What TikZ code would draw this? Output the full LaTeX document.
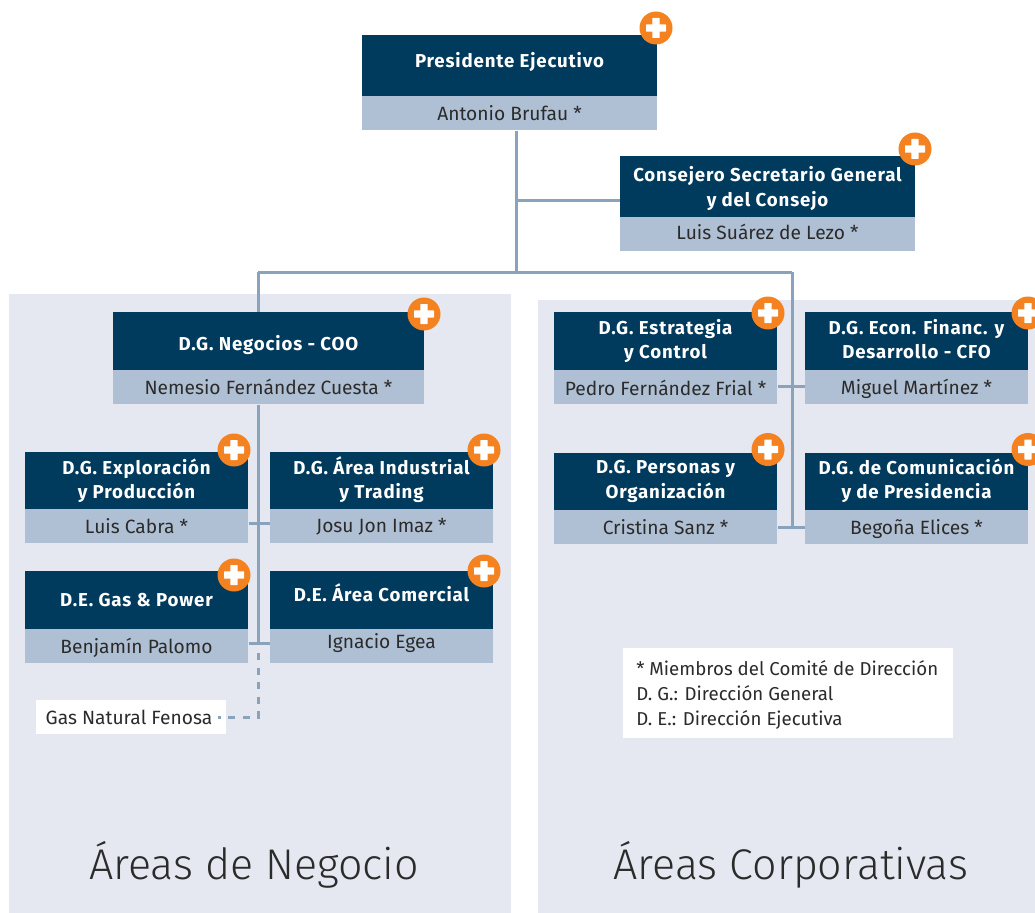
\documentclass[tikz,border=0pt]{standalone}
\usepackage{fontspec}
\setmainfont{Fira Sans}
\newfontfamily\lightf{Fira Sans Light}
\newfontfamily\titlef[LetterSpace=4.5]{Fira Sans}
\definecolor{headc}{HTML}{003A5D}
\definecolor{subc}{HTML}{B0C0D4}
\definecolor{panelc}{HTML}{E5E8F0}
\definecolor{plusc}{HTML}{F58220}
\definecolor{linec}{HTML}{8AA3BD}
\definecolor{textc}{HTML}{2B2B2B}
\pgfdeclarelayer{panels}
\pgfdeclarelayer{lines}
\pgfsetlayers{panels,lines,main}
\tikzset{
 headbox/.style={fill=headc,inner sep=0pt,anchor=north west},
 subbox/.style={fill=subc,inner sep=0pt,anchor=north west},
 titletext/.style={text=white,font=\titlef\fontsize{14}{18.4}\selectfont\bfseries,align=center,inner sep=0pt},
 subtext/.style={text=textc,font=\fontsize{14.4}{18}\selectfont,inner sep=0pt,text height=10pt,text depth=0pt},
 panelbox/.style={fill=panelc,inner sep=0pt,anchor=north west},
 whitebox/.style={fill=white,inner sep=0pt,anchor=north west},
 conn/.style={draw=linec,line width=2.25pt},
 dashconn/.style={draw=linec,line width=2.25pt,dash pattern=on 5.25pt off 5.625pt,dash phase=5.25pt},
 plusbtn/.style={circle,fill=plusc,inner sep=0pt,minimum size=24.75pt,
   path picture={
     \fill[white,rounded corners=0.5pt] ([xshift=-7.5pt,yshift=-2.8pt]path picture bounding box.center) rectangle ([xshift=7.5pt,yshift=2.8pt]path picture bounding box.center);
     \fill[white,rounded corners=0.5pt] ([xshift=-2.8pt,yshift=-7.5pt]path picture bounding box.center) rectangle ([xshift=2.8pt,yshift=7.5pt]path picture bounding box.center);
   }},
 bigtext/.style={text=textc,font=\lightf\fontsize{32.2}{36}\selectfont,inner sep=0pt},
 legendtext/.style={text=textc,font=\fontsize{14}{18.75}\selectfont,align=left,inner sep=0pt,anchor=west,text height=10pt,text depth=0pt},
}
% name x0 x1 y0 ymid titleY title subY sub
\newcommand{\orgbox}[9]{%
 \node[headbox,minimum width={(#3-#2)*0.75pt},minimum height={(#5-#4)*0.75pt}] (#1) at (#2,#4) {};
 \node[subbox,minimum width={(#3-#2)*0.75pt},minimum height={25.5pt}] (#1-sub) at (#2,#5) {};
 \node[titletext] (#1-t) at ({(#2+#3)/2},#6) {#7};
 \node[subtext] (#1-s) at ({(#2+#3)/2},#8) {#9};
}
\begin{document}
\begin{tikzpicture}[x=0.75pt,y=-0.75pt]
\useasboundingbox (0,0) rectangle (1035,913);
\begin{pgfonlayer}{panels}
 \node[panelbox,minimum width={502*0.75pt},minimum height={619*0.75pt}] (leftpanel) at (9,294) {};
 \node[panelbox,minimum width={497*0.75pt},minimum height={613*0.75pt}] (rightpanel) at (538,300) {};
\end{pgfonlayer}

\orgbox{pres}{362}{657}{35}{96}{61.5}{Presidente Ejecutivo}{113.5}{Antonio Brufau *}
\orgbox{cons}{620}{915}{156}{217}{188.5}{Consejero Secretario General\\y del Consejo}{232.5}{Luis Suárez de Lezo *}
\orgbox{neg}{113}{424}{312}{370}{345}{D.G. Negocios - COO}{387.5}{Nemesio Fernández Cuesta *}
\orgbox{expl}{25}{248}{452}{509}{481}{D.G. Exploración\\y Producción}{526.5}{Luis Cabra *}
\orgbox{ind}{270}{493}{452}{509}{479.5}{D.G. Área Industrial\\y Trading}{525.5}{Josu Jon Imaz *}
\orgbox{gas}{25}{248}{571}{629}{600.5}{D.E. Gas \& Power}{647}{Benjamín Palomo}
\orgbox{com}{270}{493}{571}{629}{593}{D.E. Área Comercial}{641.5}{Ignacio Egea}
\orgbox{est}{554}{777}{312}{370}{341}{D.G. Estrategia\\y Control}{388.5}{Pedro Fernández Frial *}
\orgbox{cfo}{805}{1028}{312}{370}{339}{D.G. Econ. Financ. y\\Desarrollo - CFO}{387.5}{Miguel Martínez *}
\orgbox{per}{554}{777}{453}{510}{481.5}{D.G. Personas y\\Organización}{527.5}{Cristina Sanz *}
\orgbox{dcp}{805}{1028}{453}{510}{481}{D.G. de Comunicación\\y de Presidencia}{527.5}{Begoña Elices *}

\node[plusbtn] (p1) at (656,28) {};
\node[plusbtn] (p2) at (915,149) {};
\node[plusbtn] (p3) at (424,314) {};
\node[plusbtn] (p4) at (234,450) {};
\node[plusbtn] (p5) at (484,450) {};
\node[plusbtn] (p6) at (234,575) {};
\node[plusbtn] (p7) at (484,571) {};
\node[plusbtn] (p8) at (768,313) {};
\node[plusbtn] (p9) at (1028,313) {};
\node[plusbtn] (p10) at (768,449.5) {};
\node[plusbtn] (p11) at (1028,449.5) {};

\node[whitebox,minimum width={190*0.75pt},minimum height={34*0.75pt}] (gnf) at (36,700) {};
\node[subtext] (gnf-t) at (129,717.5) {Gas Natural Fenosa};
\node[whitebox,minimum width={330*0.75pt},minimum height={90*0.75pt}] (legend) at (623,648) {};
\node[legendtext] (leg1) at (636,668.5) {* Miembros del Comité de Dirección};
\node[legendtext] (leg2) at (636,693.5) {D. G.: Dirección General};
\node[legendtext] (leg3) at (636,718.5) {D. E.: Dirección Ejecutiva};
\node[bigtext] (lbl1) at (254,864.5) {Áreas de Negocio};
\node[bigtext] (lbl2) at (791,864.5) {Áreas Corporativas};

\coordinate (j1) at (516.5,201);
\coordinate (j2) at (516.5,272);
\coordinate (jl) at (258,272);
\coordinate (jr) at (792,272);
\coordinate (jl1) at (258,523);
\coordinate (jl2) at (258,643);
\coordinate (jr1) at (792,386.5);
\coordinate (jr2) at (792,527);
\coordinate (ds) at (258,645.5);
\coordinate (dc) at (258,717);
\coordinate (de) at (218,717);

\begin{pgfonlayer}{lines}
 \draw[conn] (j1 |- pres-sub.south) -- (j2);
 \draw[conn] (j1) -- (j1 -| cons.west);
 \draw[conn] (jl) -- (jr);
 \draw[conn] (jl) -- (jl |- neg.north);
 \draw[conn] (jl |- neg-sub.south) -- (jl2);
 \draw[conn] (jr) -- (jr2);
 \draw[conn] (jl1 -| expl-sub.east) -- (jl1 -| ind-sub.west);
 \draw[conn] (jl2 -| gas-sub.east) -- (jl2 -| com-sub.west);
 \draw[conn] (jr1 -| est-sub.east) -- (jr1 -| cfo-sub.west);
 \draw[conn] (jr2 -| per-sub.east) -- (jr2 -| dcp-sub.west);
\end{pgfonlayer}
\draw[dashconn] (ds) -- (dc) -- (de);
\end{tikzpicture}
\end{document}
